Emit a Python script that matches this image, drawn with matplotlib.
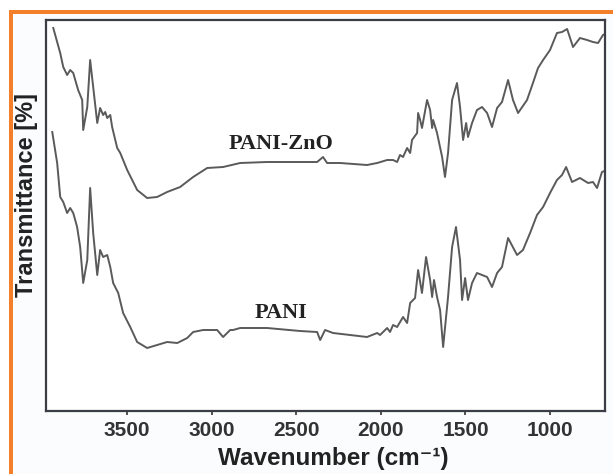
import matplotlib
matplotlib.use("Agg")
import matplotlib.pyplot as plt
from matplotlib.patches import Rectangle

# PANI-ZnO spectrum (wavenumber cm-1, transmittance a.u.)
zno_wn = [3937, 3896, 3878, 3855, 3837, 3819, 3790, 3766, 3760, 3736, 3719, 3701, 3677,
          3660, 3642, 3630, 3618, 3600, 3589, 3559, 3541, 3500, 3441, 3382, 3323, 3264,
          3187, 3110, 3027, 2933, 2832, 2673, 2478, 2377, 2342, 2318, 2241, 2082, 2022,
          1963, 1928, 1904, 1887, 1869, 1845, 1827, 1816, 1786, 1780, 1768, 1757, 1727,
          1709, 1697, 1691, 1668, 1638, 1621, 1603, 1579, 1550, 1532, 1514, 1496, 1485,
          1461, 1432, 1402, 1372, 1343, 1313, 1284, 1248, 1219, 1189, 1136, 1101, 1071,
          1041, 1000, 959, 929, 899, 864, 823, 781, 746, 716, 687, 663]
zno_t = [383, 358, 344, 336, 341, 338, 321, 311, 281, 304, 351, 324, 288,
         303, 296, 299, 293, 296, 284, 263, 258, 241, 221, 213, 214, 219,
         224, 234, 243, 244, 248, 249, 249, 249, 254, 248, 248, 246, 248,
         251, 251, 249, 256, 254, 263, 258, 271, 278, 298, 291, 283, 311,
         301, 283, 291, 278, 254, 234, 258, 311, 328, 304, 271, 288, 274,
         288, 301, 304, 298, 284, 303, 309, 331, 311, 298, 311, 328, 343,
         351, 361, 378, 379, 382, 364, 373, 371, 369, 368, 376, 378]

# PANI spectrum
pani_wn = [3943, 3914, 3896, 3878, 3855, 3837, 3819, 3796, 3778, 3760, 3736, 3719, 3701,
           3677, 3660, 3642, 3618, 3600, 3583, 3553, 3524, 3482, 3441, 3382, 3323, 3264,
           3204, 3145, 3110, 3051, 2968, 2933, 2891, 2874, 2832, 2673, 2478, 2377, 2359,
           2330, 2283, 2082, 2022, 2005, 1963, 1946, 1928, 1904, 1869, 1845, 1827, 1798,
           1780, 1757, 1733, 1709, 1697, 1686, 1668, 1650, 1632, 1603, 1579, 1556, 1532,
           1520, 1502, 1485, 1461, 1432, 1402, 1372, 1343, 1313, 1284, 1248, 1195, 1160,
           1118, 1077, 1041, 1000, 959, 929, 905, 870, 823, 775, 746, 722, 693, 663]
pani_t = [279, 248, 214, 209, 198, 203, 198, 184, 164, 128, 151, 223, 178,
          136, 161, 154, 156, 144, 128, 118, 98, 84, 69, 63, 66, 69,
          68, 73, 79, 81, 81, 74, 81, 81, 83, 83, 80, 79, 71,
          81, 78, 74, 78, 76, 83, 79, 86, 84, 94, 88, 108, 113,
          141, 118, 154, 131, 114, 131, 114, 101, 64, 114, 164, 184, 151,
          111, 133, 111, 128, 138, 136, 134, 124, 138, 144, 173, 156, 161,
          178, 196, 204, 218, 231, 236, 244, 229, 233, 228, 229, 223, 239, 241]

x_ticks = [3500, 3000, 2500, 2000, 1500, 1000]
labels = ["PANI-ZnO", "PANI"]

W, H = 613, 474
fig = plt.figure(figsize=(W / 100, H / 100), dpi=100)
fig.patch.set_facecolor("white")

# light panel + orange frame (figure pixel coords)
def px_rect(x0, y0, x1, y1, color, z):
    fig.patches.append(Rectangle((x0 / W, 1 - y1 / H), (x1 - x0) / W, (y1 - y0) / H,
                                 transform=fig.transFigure, facecolor=color,
                                 edgecolor="none", zorder=z))

px_rect(11, 12, W, H, "#fafcfd", 0)
px_rect(9, 10, W, 14, "#f47f2a", 1)
px_rect(9, 10, 13, H, "#f47f2a", 1)

ax = fig.add_axes([46 / W, 1 - 411 / H, (605 - 46) / W, (411 - 20) / H])
ax.set_zorder(5)
ax.set_facecolor("white")
lc = "#5a5a5a"
ax.plot(zno_wn, zno_t, color=lc, lw=1.4, solid_joinstyle="round")
ax.plot(pani_wn, pani_t, color=lc, lw=1.4, solid_joinstyle="round")
ax.set_xlim(3980, 675)
ax.set_ylim(0, 391)

ax.set_xticks(x_ticks)
ax.set_xticklabels([str(v) for v in x_ticks], fontfamily="Liberation Sans",
                   fontweight="bold", fontsize=15, color="#333333")
ax.tick_params(axis="x", direction="out", length=3, width=1.2, color="#333333", pad=4)
ax.set_yticks([])
for s in ax.spines.values():
    s.set_color("#3a3d45")
    s.set_linewidth(1.6)

ax.text(2590, 267, labels[0], fontfamily="Liberation Serif", fontweight="bold",
        fontsize=16, color="#222222", ha="center", va="center")
ax.text(2590, 98, labels[1], fontfamily="Liberation Serif", fontweight="bold",
        fontsize=16, color="#222222", ha="center", va="center")

fig.text(26 / W, 1 - 195 / H, "Transmittance [%]", rotation=90, ha="center", va="center",
         fontfamily=["Liberation Sans", "DejaVu Sans"], fontweight="bold", fontsize=17,
         color="#222222", zorder=6)
fig.text(333 / W, 1 - 458 / H, "Wavenumber (cm⁻¹)", ha="center", va="center",
         fontfamily=["Liberation Sans", "DejaVu Sans"], fontweight="bold", fontsize=17.5,
         color="#222222", zorder=6)

fig.savefig("out.png", dpi=100, facecolor=fig.get_facecolor())
